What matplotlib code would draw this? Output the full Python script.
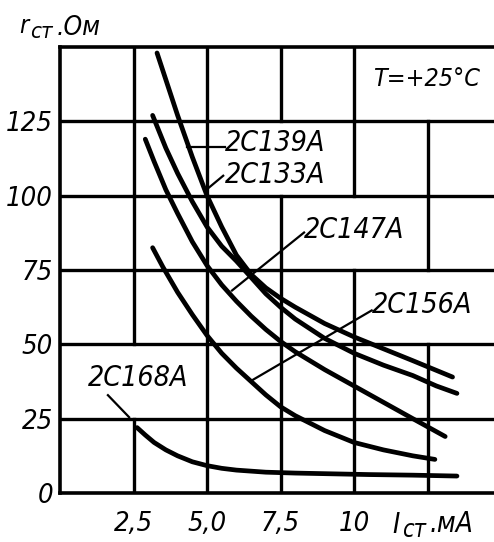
import matplotlib
matplotlib.use("Agg")
import matplotlib.pyplot as plt
from matplotlib import font_manager

# pick a narrow font if one is around, otherwise shrink DejaVu
names = {f.name for f in font_manager.fontManager.ttflist}
STRETCH = "normal"
if "Liberation Sans Narrow" in names:
    FONT, K = "Liberation Sans Narrow", 1.0
elif any(f.name == "DejaVu Sans" and f.stretch == "condensed" for f in font_manager.fontManager.ttflist):
    FONT, K, STRETCH = "DejaVu Sans", 0.82, "condensed"
else:
    FONT, K = "DejaVu Sans", 0.7
plt.rcParams["font.family"] = [FONT, "DejaVu Sans"]
plt.rcParams["font.style"] = "italic"
plt.rcParams["font.stretch"] = STRETCH

# data: I_st (mA) vs r_st (Ohm)
i_139 = [3.3, 3.6, 4.0, 4.5, 5.0, 5.5, 6.0, 6.5, 7.0, 7.5, 8.0, 9.0, 10.0, 11.0, 12.0, 13.35]
r_139 = [148, 139, 127, 113, 100, 89.5, 80, 73.5, 69, 65.5, 62.5, 57, 52.5, 48.5, 44.5, 39]

i_133 = [3.15, 3.6, 4.0, 4.5, 5.0, 5.5, 6.0, 6.5, 7.0, 7.5, 8.0, 9.0, 10.0, 11.0, 12.0, 12.8, 13.5]
r_133 = [127, 116, 107.5, 98, 89.5, 83, 78, 72.5, 67, 62.5, 58.5, 52, 47, 43, 39.5, 36, 33.5]

i_147 = [2.9, 3.2, 3.6, 4.0, 4.5, 5.0, 5.5, 6.0, 6.5, 7.0, 7.5, 8.0, 9.0, 10.0, 11.0, 12.0, 13.1]
r_147 = [119, 111.5, 102, 94, 84.5, 76.5, 70, 64.5, 59.5, 55, 51, 47.5, 41.5, 36, 30.5, 25, 19]

i_156 = [3.15, 3.5, 4.0, 4.5, 5.0, 5.5, 6.0, 6.5, 7.0, 7.5, 8.0, 9.0, 10.0, 11.0, 12.0, 12.75]
r_156 = [82.5, 76, 67.5, 60, 53, 47, 42, 37.5, 33, 29, 26, 21, 17, 14.5, 12.5, 11.3]

i_168 = [2.62, 2.9, 3.2, 3.6, 4.0, 4.5, 5.0, 5.5, 6.0, 7.0, 8.0, 9.0, 10.5, 12.0, 13.5]
r_168 = [22, 19.5, 17, 14.5, 12.5, 10.5, 9.2, 8.3, 7.7, 7.0, 6.7, 6.5, 6.2, 6.0, 5.7]

x_ticks = [2.5, 5.0, 7.5, 10]
x_tick_labels = ["2,5", "5,0", "7,5", "10"]
y_ticks = [0, 25, 50, 75, 100, 125]

W, H = 494, 542
fig = plt.figure(figsize=(W / 100, H / 100), dpi=100)
ax = fig.add_axes([60 / W, 1 - 493 / H, 1 - 60 / W, (493 - 47) / H])
ax.set_xlim(0, 14.76)
ax.set_ylim(0, 150)

GRID_LW = 2.4
# broken grid: vertical lines are left out in the cells holding labels
gaps = {2.5: [(25, 50)], 5.0: [], 7.5: [(100, 125)], 10.0: [(75, 100)],
        12.5: [(125, 150), (50, 75)]}
for x, skip in gaps.items():
    for lo in range(0, 150, 25):
        if (lo, lo + 25) not in skip:
            ax.plot([x, x], [lo, lo + 25], color="black", lw=GRID_LW,
                    solid_capstyle="projecting")
for y in [25, 50, 75, 100, 125]:
    ax.axhline(y, color="black", lw=GRID_LW)

for s in ["left", "bottom", "top"]:
    ax.spines[s].set_linewidth(2.6)
ax.spines["right"].set_visible(False)

ax.set_xticks(x_ticks)
ax.set_xticklabels(x_tick_labels)
ax.set_yticks(y_ticks)
ax.tick_params(length=0, labelsize=24 * K)
ax.tick_params(axis="x", pad=13)
ax.tick_params(axis="y", pad=5)

CURVE_LW = 3.4
for xs, ys in [(i_139, r_139), (i_133, r_133), (i_147, r_147),
               (i_156, r_156), (i_168, r_168)]:
    ax.plot(xs, ys, color="black", lw=CURVE_LW, solid_capstyle="round",
            solid_joinstyle="round")

# labels with leader lines
LEAD = 1.6
fs = 25 * K
ax.plot([4.32, 5.62], [116.4, 116.4], color="black", lw=LEAD)
ax.text(5.62, 117.8, "2С139А", fontsize=fs, va="center", ha="left")
ax.plot([4.93, 5.55], [101.6, 106.7], color="black", lw=LEAD)
ax.text(5.62, 107, "2С133А", fontsize=fs, va="center", ha="left")
ax.plot([5.85, 8.3], [68.1, 87.6], color="black", lw=LEAD)
ax.text(8.3, 88.5, "2С147А", fontsize=fs, va="center", ha="left")
ax.plot([6.53, 10.6], [37.9, 61.4], color="black", lw=LEAD)
ax.text(10.6, 63.2, "2С156А", fontsize=fs, va="center", ha="left")
ax.plot([1.63, 2.35], [32.9, 25.5], color="black", lw=LEAD)
ax.text(0.95, 38.7, "2С168А", fontsize=fs, va="center", ha="left")
ax.text(10.65, 139.3, "T=+25°C", fontsize=22 * K, va="center", ha="left")

# axis titles with subscripts
def ftext(px, py, s, size):
    fig.text(px / W, 1 - py / H, s, fontsize=size, ha="left", va="baseline")

ftext(19, 33, "r", 18)
ftext(30, 38, "ст", 16)
ftext(57, 35, ".Ом", 19)
ftext(392, 533, "I", 20)
ftext(402, 537, "ст", 17)
ftext(430, 532, ".мА", 20)

fig.savefig("out.png", dpi=100)
